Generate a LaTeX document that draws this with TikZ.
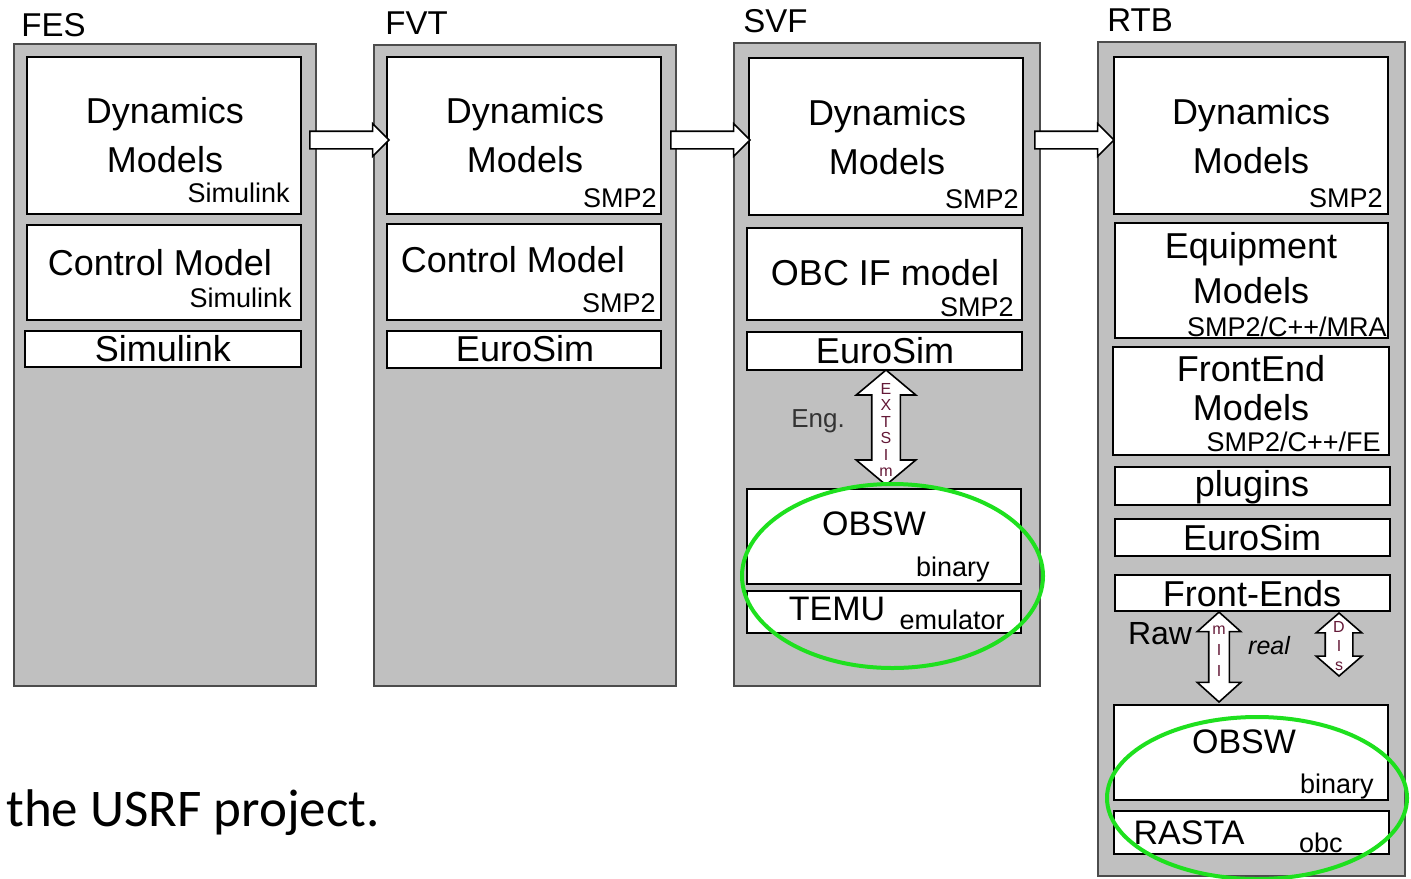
\documentclass[tikz,border=0pt]{standalone}
\usepackage{fontspec}
\setmainfont{Liberation Sans}
\newfontfamily\captionfont{Carlito}
\usetikzlibrary{shapes.arrows}
\definecolor{panelgray}{HTML}{C0C0C0}
\definecolor{ringgreen}{HTML}{1EE01E}
\definecolor{lettercol}{RGB}{100,25,55}
\newcommand{\bigfont}{\fontsize{18}{24.5}\selectfont}
\newcommand{\smallfont}{\fontsize{13.5}{15}\selectfont}

\begin{document}
\begin{tikzpicture}[x=0.5pt,y=-0.5pt]
    \useasboundingbox (0,0) rectangle (1411,878);
    % test platforms
    \begin{scope}[every node/.style={rectangle,draw=black!70,line width=1pt,fill=panelgray,inner sep=0pt}]
      \node[minimum width=151pt,minimum height=321pt] (fes) at (165,365) {};
      \node[minimum width=151pt,minimum height=320.5pt] (fvt) at (525,365.5) {};
      \node[minimum width=153pt,minimum height=321.5pt] (svf) at (887,364.5) {};
      \node[minimum width=153.5pt,minimum height=417pt] (rtb) at (1251.5,459) {};
    \end{scope}
    \begin{scope}[every node/.style={anchor=west,inner sep=0pt,font=\fontsize{16.5}{18}\selectfont}]
      \node (festitle) at (21,25) {FES};
      \node (fvttitle) at (385,23) {FVT};
      \node (svftitle) at (743,21) {SVF};
      \node (rtbtitle) at (1107,20) {RTB};
    \end{scope}
    % model boxes
    \begin{scope}[every node/.style={rectangle,draw=black,line width=0.8pt,fill=white,inner sep=0pt}]
      \node[minimum width=137pt,minimum height=78.5pt] (fesdyn) at (164,135.5) {};
      \node[minimum width=137pt,minimum height=47.5pt] (fesctrl) at (164,272.5) {};
      \node[minimum width=138pt,minimum height=18pt] (fessim) at (163,349) {};
      \node[minimum width=137pt,minimum height=78.5pt] (fvtdyn) at (524,135.5) {};
      \node[minimum width=137pt,minimum height=48pt] (fvtctrl) at (524,272) {};
      \node[minimum width=137pt,minimum height=18.5pt] (fvteuro) at (524,349.5) {};
      \node[minimum width=137pt,minimum height=78.5pt] (svfdyn) at (886,136.5) {};
      \node[minimum width=137.5pt,minimum height=46pt] (svfobc) at (884.5,274) {};
      \node[minimum width=137.5pt,minimum height=19pt] (svfeuro) at (884.5,351) {};
      \node[minimum width=137pt,minimum height=47.5pt] (svfobsw) at (884,536.5) {};
      \node[minimum width=137pt,minimum height=21pt] (svftemu) at (884,612) {};
      \node[minimum width=137pt,minimum height=78.5pt] (rtbdyn) at (1251,135.5) {};
      \node[minimum width=136.5pt,minimum height=57.5pt] (rtbequip) at (1251.5,280.5) {};
      \node[minimum width=138pt,minimum height=54pt] (rtbfront) at (1251,401) {};
      \node[minimum width=137.5pt,minimum height=19pt] (rtbplug) at (1252.5,486) {};
      \node[minimum width=137.5pt,minimum height=18.5pt] (rtbeuro) at (1252.5,537.5) {};
      \node[minimum width=137.5pt,minimum height=18pt] (rtbfe) at (1252.5,593) {};
      \node[minimum width=137pt,minimum height=47.5pt] (rtbobsw) at (1251,752.5) {};
      \node[minimum width=137.5pt,minimum height=21.5pt] (rtbrasta) at (1251.5,832.5) {};
    \end{scope}
    % main labels
    \begin{scope}[every node/.style={inner sep=0pt,align=center,font=\bigfont}]
      \node (fesdyntext) at (165,135.5) {Dynamics\\Models};
      \node (fesctrltext) at (160,263) {Control Model};
      \node (fessimtext) at (163,349) {Simulink};
      \node (fvtdyntext) at (525,135.5) {Dynamics\\Models};
      \node (fvtctrltext) at (513,260) {Control Model};
      \node (fvteurotext) at (525,349) {EuroSim};
      \node (svfdyntext) at (887,137) {Dynamics\\Models};
      \node (svfobctext) at (885,273) {OBC IF model};
      \node (svfeurotext) at (885,351) {EuroSim};
      \node[font=\fontsize{17}{20}\selectfont] (svfobswtext) at (874,524) {OBSW};
      \node[font=\fontsize{17}{20}\selectfont] (svftemutext) at (837,609) {TEMU};
      \node (rtbdyntext) at (1251,136) {Dynamics\\Models};
      \node[font=\fontsize{18}{22.5}\selectfont] (rtbequiptext) at (1251,268.5) {Equipment\\Models};
      \node[font=\fontsize{18}{19.5}\selectfont] (rtbfronttext) at (1251,388.5) {FrontEnd\\Models};
      \node (rtbplugtext) at (1252,487) {plugins};
      \node (rtbeurotext) at (1252,538) {EuroSim};
      \node (rtbfetext) at (1252,594) {Front-Ends};
      \node[font=\fontsize{17}{20}\selectfont] (rtbobswtext) at (1244,742) {OBSW};
      \node[font=\fontsize{17}{20}\selectfont] (rtbrastatext) at (1189,833) {RASTA};
    \end{scope}
    % implementation notes
    \begin{scope}[every node/.style={anchor=base east,inner sep=0pt,font=\smallfont}]
      \node (fesdynnote) at (290,202) {Simulink};
      \node (fesctrlnote) at (292,307) {Simulink};
      \node (fvtdynnote) at (657,207) {SMP2};
      \node (fvtctrlnote) at (656,312) {SMP2};
      \node (svfdynnote) at (1019,208) {SMP2};
      \node (svfobcnote) at (1014,316) {SMP2};
      \node (svfobswnote) at (990,576) {binary};
      \node (svftemunote) at (1005,629) {emulator};
      \node (rtbdynnote) at (1383,207) {SMP2};
      \node (rtbequipnote) at (1387,336) {SMP2/C++/MRA};
      \node (rtbfrontnote) at (1381,451) {SMP2/C++/FE};
      \node (rtbobswnote) at (1374,793) {binary};
      \node (rtbrastanote) at (1343,852) {obc};
    \end{scope}
    % promotion arrows
    \begin{scope}[every node/.style={single arrow,draw=black,line width=0.8pt,fill=white,inner sep=4pt,single arrow head extend=3.75pt,minimum height=39.5pt}]
      \node (fes2fvt) at (345,140) {};
      \node (fvt2svf) at (706,140) {};
      \node (svf2rtb) at (1070,140) {};
    \end{scope}
    % interfaces
    \begin{scope}[every node/.style={double arrow,rotate=90,draw=black,line width=0.8pt,fill=white}]
      \node[inner sep=6.75pt,double arrow head extend=7.75pt,double arrow tip angle=100,minimum height=57.5pt] (extsim) at (886,427.5) {};
      \node[inner sep=4.75pt,double arrow head extend=5.75pt,double arrow tip angle=96,minimum height=45pt] (mil) at (1219,657) {};
      \node[inner sep=6.5pt,double arrow head extend=4.5pt,double arrow tip angle=98,minimum height=31.5pt] (dis) at (1339,644.5) {};
    \end{scope}
    \begin{scope}[every node/.style={inner sep=0pt,align=center,text=lettercol}]
      \node[font=\fontsize{8}{8.2}\selectfont] (extsimtext) at (886,430) {E\\X\\T\\S\\I\\m};
      \node[font=\fontsize{8}{10.5}\selectfont] (miltext) at (1219,651) {m\\I\\I};
      \node[font=\fontsize{8}{9.5}\selectfont] (distext) at (1339,646) {D\\I\\s};
    \end{scope}
    \node[text=black!80,font=\fontsize{13}{15}\selectfont,inner sep=0pt] (eng) at (818,421) {Eng.};
    \node[font=\fontsize{16}{18}\selectfont,inner sep=0pt] (raw) at (1160,634) {Raw};
    \node[font=\fontsize{12.5}{15}\itshape\selectfont,inner sep=0pt] (real) at (1269,646) {real};
    % highlighted software
    \draw[ringgreen,line width=2pt] (892.5,576) ellipse [x radius=150.5,y radius=92];
    \draw[ringgreen,line width=2pt] (1257,798) ellipse [x radius=150,y radius=81];
    \node[anchor=base west,inner sep=0pt,font=\captionfont\fontsize{26.5}{30}\selectfont] (caption) at (6,826) {the USRF project.};
\end{tikzpicture}
\end{document}
